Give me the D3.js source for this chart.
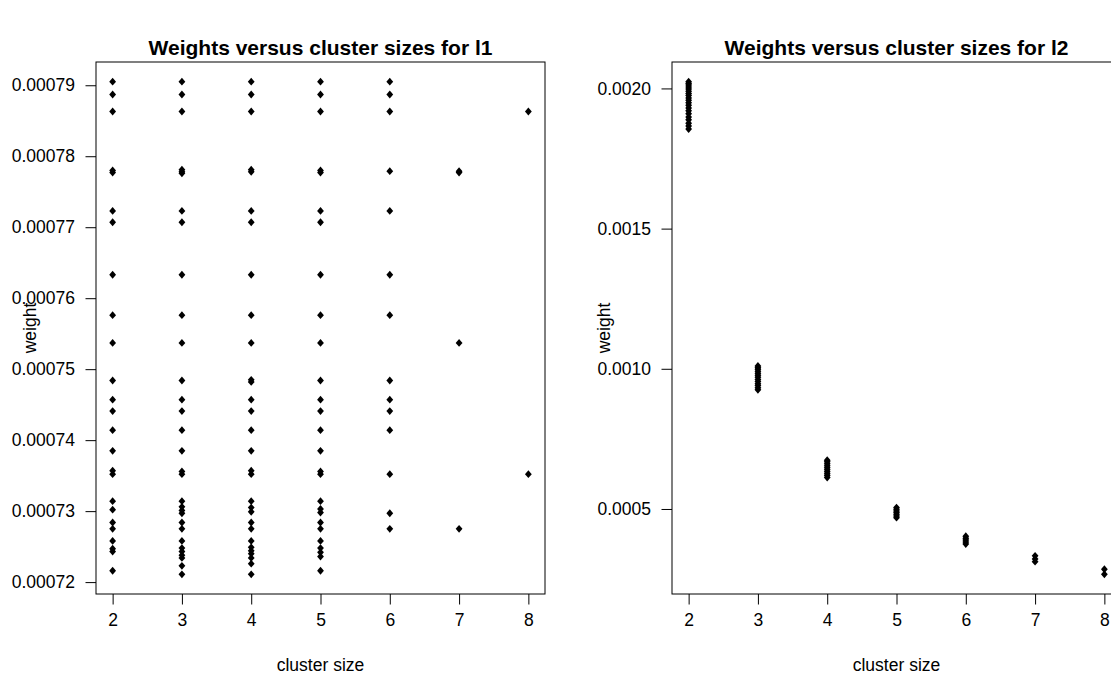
<!DOCTYPE html>
<html>
<head>
<meta charset="utf-8">
<script src="https://cdn.jsdelivr.net/npm/d3@7"></script>
<style>
  html, body { margin: 0; padding: 0; background: #fff; }
  svg { display: block; font-family: "Liberation Sans", Arial, sans-serif; }
</style>
</head>
<body>
<svg id="chart" width="1111" height="679"></svg>
<script>
// ---------- data ----------
const clusterSizes = [2, 3, 4, 5, 6, 7, 8];
const xTickLabels = ["2", "3", "4", "5", "6", "7", "8"];

// l1 weights by cluster size
const l1Size2 = [0.0007905, 0.0007887, 0.0007863, 0.0007780, 0.0007777, 0.0007723, 0.0007707, 0.0007633, 0.0007576, 0.0007537, 0.0007484, 0.0007457, 0.0007441, 0.0007414, 0.0007385, 0.0007357, 0.0007352, 0.0007314, 0.0007302, 0.0007284, 0.0007275, 0.0007258, 0.0007247, 0.0007243, 0.0007216];
const l1Size3 = [0.0007905, 0.0007887, 0.0007863, 0.0007781, 0.0007778, 0.0007776, 0.0007723, 0.0007707, 0.0007633, 0.0007576, 0.0007537, 0.0007484, 0.0007457, 0.0007441, 0.0007414, 0.0007385, 0.0007356, 0.0007352, 0.0007314, 0.0007306, 0.0007301, 0.0007297, 0.0007284, 0.0007275, 0.0007258, 0.0007248, 0.0007243, 0.0007238, 0.0007234, 0.0007223, 0.0007211];
const l1Size4 = [0.0007905, 0.0007887, 0.0007863, 0.0007781, 0.0007778, 0.0007723, 0.0007707, 0.0007633, 0.0007576, 0.0007537, 0.0007485, 0.0007482, 0.0007457, 0.0007441, 0.0007414, 0.0007385, 0.0007357, 0.0007352, 0.0007314, 0.0007305, 0.0007299, 0.0007284, 0.0007275, 0.0007258, 0.0007249, 0.0007244, 0.0007240, 0.0007234, 0.0007226, 0.0007211];
const l1Size5 = [0.0007905, 0.0007887, 0.0007863, 0.0007780, 0.0007777, 0.0007723, 0.0007707, 0.0007633, 0.0007576, 0.0007537, 0.0007484, 0.0007457, 0.0007441, 0.0007414, 0.0007385, 0.0007356, 0.0007352, 0.0007314, 0.0007303, 0.0007298, 0.0007284, 0.0007275, 0.0007258, 0.0007248, 0.0007242, 0.0007236, 0.0007216];
const l1Size6 = [0.0007905, 0.0007887, 0.0007863, 0.0007779, 0.0007723, 0.0007633, 0.0007576, 0.0007484, 0.0007457, 0.0007441, 0.0007414, 0.0007352, 0.0007297, 0.0007275];
const l1Size7 = [0.0007779, 0.0007777, 0.0007537, 0.0007275];
const l1Size8 = [0.0007863, 0.0007352];

// l2 weights by cluster size
const l2Size2 = [0.002024, 0.002018, 0.002012, 0.002005, 0.001998, 0.001990, 0.001982, 0.001975, 0.001966, 0.001958, 0.001949, 0.001940, 0.001930, 0.001920, 0.001910, 0.001898, 0.001888, 0.001876, 0.001866, 0.001855];
const l2Size3 = [0.001010, 0.001004, 0.000998, 0.000991, 0.000984, 0.000977, 0.000970, 0.000962, 0.000955, 0.000947, 0.000940, 0.000932, 0.000925];
const l2Size4 = [0.000674, 0.000668, 0.000661, 0.000654, 0.000647, 0.000640, 0.000633, 0.000626, 0.000619, 0.000612];
const l2Size5 = [0.000505, 0.000499, 0.000493, 0.000487, 0.000481, 0.000475, 0.000469];
const l2Size6 = [0.000403, 0.000396, 0.000389, 0.000382, 0.000375];
const l2Size7 = [0.000333, 0.000322, 0.000312];
const l2Size8 = [0.000285, 0.000267];

const l1Ticks = [0.00072, 0.00073, 0.00074, 0.00075, 0.00076, 0.00077, 0.00078, 0.00079];
const l1TickLabels = ["0.00072", "0.00073", "0.00074", "0.00075", "0.00076", "0.00077", "0.00078", "0.00079"];
const l2Ticks = [0.0005, 0.0010, 0.0015, 0.0020];
const l2TickLabels = ["0.0005", "0.0010", "0.0015", "0.0020"];

const titles = ["Weights versus cluster sizes for l1", "Weights versus cluster sizes for l2"];
const xLabel = "cluster size";
const yLabel = "weight";

// ---------- build ----------
function toPoints(groups) {
  const pts = [];
  groups.forEach((vals, i) => vals.forEach(v => pts.push({ x: clusterSizes[i], y: v })));
  return pts;
}
const l1Points = toPoints([l1Size2, l1Size3, l1Size4, l1Size5, l1Size6, l1Size7, l1Size8]);
const l2Points = toPoints([l2Size2, l2Size3, l2Size4, l2Size5, l2Size6, l2Size7, l2Size8]);

const svg = d3.select("#chart");
const FONT = "Liberation Sans, Arial, sans-serif";
const BASE = 17.5;

function padded(ext) {
  const r = ext[1] - ext[0];
  return [ext[0] - 0.04 * r, ext[1] + 0.04 * r];
}

function panel(cfg) {
  const { left, right, top, bottom, points, ticks, tickLabels, title, ylabX } = cfg;
  const g = svg.append("g");

  const x = d3.scaleLinear().domain(padded(d3.extent(clusterSizes))).range([left, right]);
  const y = d3.scaleLinear().domain(padded(d3.extent(points, d => d.y))).range([bottom, top]);

  // points (diamonds, like R pch=18)
  const diamond = "M0,-3.9L3.4,0L0,3.9L-3.4,0Z";
  g.append("g").selectAll("path").data(points).join("path")
    .attr("d", diamond)
    .attr("transform", d => `translate(${x(d.x)},${y(d.y)})`)
    .attr("fill", "#000");

  // box
  g.append("rect")
    .attr("x", left).attr("y", top)
    .attr("width", right - left).attr("height", bottom - top)
    .attr("fill", "none").attr("stroke", "#000").attr("stroke-width", 1);

  // x axis
  const xAxis = d3.axisBottom(x).tickValues(clusterSizes)
    .tickFormat((d, i) => xTickLabels[i]).tickSizeOuter(0).tickSize(10.5).tickPadding(9.5);
  const xg = g.append("g").attr("transform", `translate(0,${bottom})`).call(xAxis);
  xg.select(".domain").remove();
  xg.selectAll("text").attr("font-size", BASE).attr("fill", "#000").attr("font-family", FONT);
  xg.selectAll("line").attr("stroke", "#000");

  // y axis
  const yAxis = d3.axisLeft(y).tickValues(ticks)
    .tickFormat((d, i) => tickLabels[i]).tickSizeOuter(0).tickSize(10.5).tickPadding(10.5);
  const yg = g.append("g").attr("transform", `translate(${left},0)`).call(yAxis);
  yg.select(".domain").remove();
  yg.selectAll("text").attr("font-size", BASE).attr("fill", "#000").attr("font-family", FONT);
  yg.selectAll("line").attr("stroke", "#000");

  // title
  g.append("text")
    .attr("x", (left + right) / 2).attr("y", 55)
    .attr("text-anchor", "middle")
    .attr("font-size", BASE * 1.2).attr("font-weight", "bold")
    .text(title);

  // x label
  g.append("text")
    .attr("x", (left + right) / 2).attr("y", 671)
    .attr("text-anchor", "middle")
    .attr("font-size", BASE)
    .text(xLabel);

  // y label
  g.append("text")
    .attr("transform", `translate(${ylabX},${(top + bottom) / 2}) rotate(-90)`)
    .attr("text-anchor", "middle")
    .attr("font-size", BASE)
    .text(yLabel);
}

panel({ left: 96, right: 545, top: 62, bottom: 594, points: l1Points,
        ticks: l1Ticks, tickLabels: l1TickLabels, title: titles[0], ylabX: 36 });
panel({ left: 672, right: 1121, top: 62, bottom: 594, points: l2Points,
        ticks: l2Ticks, tickLabels: l2TickLabels, title: titles[1], ylabX: 610 });
</script>
</body>
</html>
